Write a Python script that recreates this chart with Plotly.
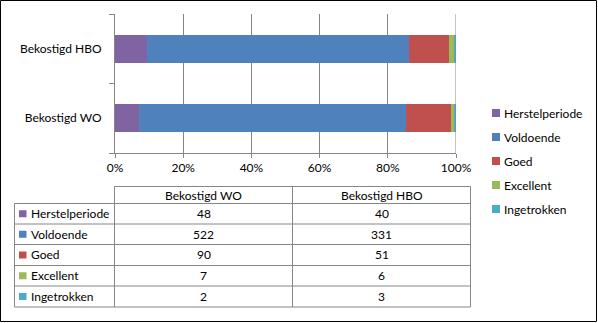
import plotly.graph_objects as go

categories = ["Bekostigd WO", "Bekostigd HBO"]
series_names = ["Herstelperiode", "Voldoende", "Goed", "Excellent", "Ingetrokken"]
wo_values = [48, 522, 90, 7, 2]
hbo_values = [40, 331, 51, 6, 3]
colors = ["#8064A2", "#4F81BD", "#C0504D", "#9BBB59", "#4BACC6"]
x_ticks = [0, 20, 40, 60, 80, 100]

W, H = 598, 323
L, R, T, B = 115, 456, 14, 153  # plot area in pixels
FONT = "Lato"
FS = 12
GRID = "#868686"


def px(x):
    return (x - L) / (R - L)


def py(y):
    return (B - y) / (B - T)


fig = go.Figure()
for i, name in enumerate(series_names):
    fig.add_trace(go.Bar(
        y=categories, x=[wo_values[i], hbo_values[i]], name=name,
        orientation="h", marker=dict(color=colors[i], line=dict(width=0)),
        showlegend=False,
    ))

shapes = []
annotations = []

# outer border
shapes.append(dict(type="rect", xref="paper", yref="paper",
                   x0=px(0.5), x1=px(596.5), y0=py(0.5), y1=py(321.5),
                   line=dict(color="black", width=1)))
# right gridline at 100%
shapes.append(dict(type="line", xref="x", yref="paper", x0=100, x1=100, y0=0, y1=1,
                   line=dict(color=GRID, width=1)))

# legend
leg_y = [113, 137, 161, 185, 209]
for i, name in enumerate(series_names):
    yc = leg_y[i]
    shapes.append(dict(type="rect", xref="paper", yref="paper",
                       x0=px(492), x1=px(500), y0=py(yc - 4), y1=py(yc + 4),
                       fillcolor=colors[i], line=dict(width=0)))
    annotations.append(dict(xref="paper", yref="paper", x=px(502), y=py(yc),
                            text=name, showarrow=False, xanchor="left", yanchor="middle",
                            font=dict(family=FONT, size=FS, color="black")))

# data table
col_x = [14.5, 114.5, 292.5, 470.5]
row_y = [186.5, 203.5, 224, 244.5, 265.5, 286, 307]
tline = dict(color=GRID, width=1)
shapes.append(dict(type="line", xref="paper", yref="paper", x0=px(col_x[1]), x1=px(col_x[3]),
                   y0=py(row_y[0]), y1=py(row_y[0]), line=tline))
for yv in row_y[1:]:
    shapes.append(dict(type="line", xref="paper", yref="paper", x0=px(col_x[0]), x1=px(col_x[3]),
                       y0=py(yv), y1=py(yv), line=tline))
shapes.append(dict(type="line", xref="paper", yref="paper", x0=px(col_x[0]), x1=px(col_x[0]),
                   y0=py(row_y[1]), y1=py(row_y[-1]), line=tline))
for xv in col_x[1:]:
    shapes.append(dict(type="line", xref="paper", yref="paper", x0=px(xv), x1=px(xv),
                       y0=py(row_y[0]), y1=py(row_y[-1]), line=tline))

tfont = dict(family=FONT, size=FS, color="black")
for j, cat in enumerate(categories):
    xc = (col_x[j + 1] + col_x[j + 2]) / 2
    annotations.append(dict(xref="paper", yref="paper", x=px(xc), y=py((row_y[0] + row_y[1]) / 2),
                            text=cat, showarrow=False, xanchor="center", yanchor="middle", font=tfont))
cols = [wo_values, hbo_values]
for i, name in enumerate(series_names):
    yc = (row_y[i + 1] + row_y[i + 2]) / 2
    shapes.append(dict(type="rect", xref="paper", yref="paper",
                       x0=px(19), x1=px(26.5), y0=py(yc - 3.5), y1=py(yc + 3.5),
                       fillcolor=colors[i], line=dict(width=0)))
    annotations.append(dict(xref="paper", yref="paper", x=px(28.5), y=py(yc),
                            text=name, showarrow=False, xanchor="left", yanchor="middle", font=tfont))
    for j in range(2):
        xc = (col_x[j + 1] + col_x[j + 2]) / 2
        annotations.append(dict(xref="paper", yref="paper", x=px(xc), y=py(yc),
                                text=str(cols[j][i]), showarrow=False, xanchor="center",
                                yanchor="middle", font=tfont))

fig.update_layout(
    template="none",
    width=W, height=H,
    margin=dict(l=L, r=W - R, t=T, b=H - B, pad=0),
    barmode="stack", barnorm="percent", bargap=0.6,
    paper_bgcolor="white", plot_bgcolor="white",
    font=dict(family=FONT, size=FS, color="black"),
    showlegend=False,
    shapes=shapes, annotations=annotations,
    xaxis=dict(range=[0, 100], tickvals=x_ticks, ticktext=[f"{v}%" for v in x_ticks],
               showgrid=True, gridcolor=GRID, gridwidth=1, zeroline=False,
               showline=True, linecolor=GRID, linewidth=1,
               ticks="outside", ticklen=4, tickcolor=GRID, automargin=False,
               fixedrange=True),
    yaxis=dict(categoryorder="array", categoryarray=categories,
               showgrid=False, zeroline=False, showline=True, linecolor=GRID, linewidth=1,
               ticks="outside", tickson="boundaries", ticklen=5, tickcolor=GRID,
               ticklabelstandoff=10, automargin=False, fixedrange=True),
)

fig.write_html("out.html")
